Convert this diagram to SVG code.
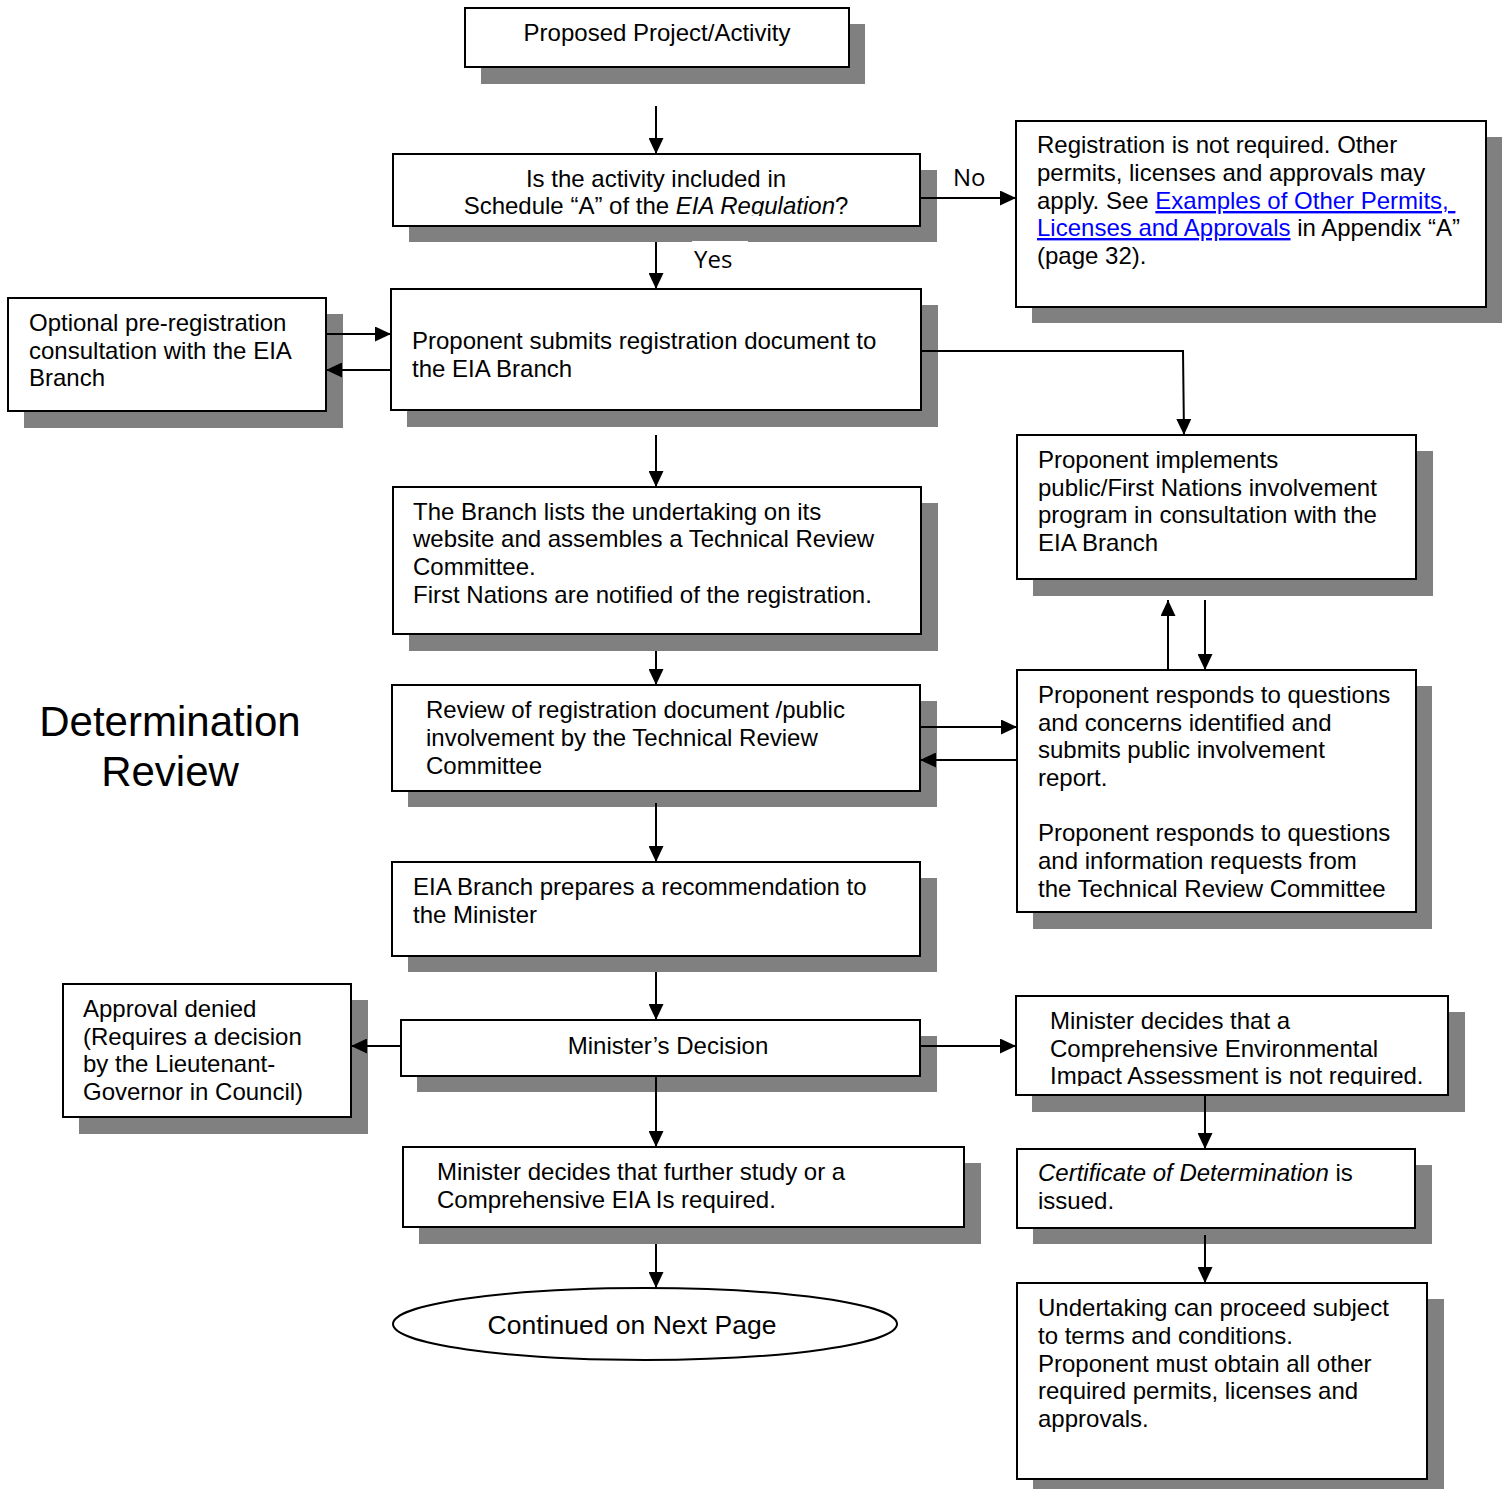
<svg xmlns="http://www.w3.org/2000/svg" width="1506" height="1489" viewBox="0 0 1506 1489">
<style>
.sh{fill:#808080}
.bx{fill:#fff;stroke:#000;stroke-width:2}
.t{font-family:"Liberation Sans",Arial,sans-serif;font-size:24px;fill:#000}
.c{text-anchor:middle}
.lbl{font-family:"Open Sans","DejaVu Sans",sans-serif;font-size:24px;fill:#000}
.ln{fill:none;stroke:#000;stroke-width:2}
.lk{fill:#0000ff;text-decoration:underline}
</style>
<defs>
<marker id="ah" viewBox="0 0 16 15" refX="16" refY="7.5" markerWidth="16" markerHeight="15" markerUnits="userSpaceOnUse" orient="auto">
<path d="M0,0 L16,7.5 L0,15 z" fill="#000"/>
</marker>
<clipPath id="c2"><rect x="393" y="154" width="527" height="62"/></clipPath>
<clipPath id="c13"><rect x="1016" y="996" width="432" height="90"/></clipPath>
</defs>
<rect x="0" y="0" width="1506" height="1489" fill="#fff"/>

<g id="n1">
<rect class="sh" x="481" y="24" width="384" height="60"/>
<rect class="bx" x="465" y="8" width="384" height="59"/>
<text class="t c" x="657" y="41">Proposed Project/Activity</text>
</g>

<g id="n2">
<rect class="sh" x="409" y="170" width="528" height="72"/>
<rect class="bx" x="393" y="154" width="527" height="72"/>
<text class="t c" x="656" y="187" clip-path="url(#c2)">Is the activity included in</text>
<text class="t c" x="656" y="214" clip-path="url(#c2)">Schedule “A” of the <tspan font-style="italic">EIA Regulation</tspan>?</text>
</g>

<g id="n3">
<rect class="sh" x="1032" y="137" width="470" height="186"/>
<rect class="bx" x="1016" y="121" width="470" height="186"/>
<text class="t" x="1037" y="153">Registration is not required. Other</text>
<text class="t" x="1037" y="181">permits, licenses and approvals may</text>
<text class="t" x="1037" y="209">apply. See <tspan class="lk">Examples of Other Permits,&#160;</tspan></text>
<text class="t" x="1037" y="236"><tspan class="lk">Licenses and Approvals</tspan> in Appendix “A”</text>
<text class="t" x="1037" y="264">(page 32).</text>
</g>

<g id="n4">
<rect class="sh" x="24" y="314" width="319" height="114"/>
<rect class="bx" x="8" y="298" width="318" height="113"/>
<text class="t" x="29" y="331">Optional pre-registration</text>
<text class="t" x="29" y="359">consultation with the EIA</text>
<text class="t" x="29" y="386">Branch</text>
</g>

<g id="n5">
<rect class="sh" x="407" y="305" width="531" height="122"/>
<rect class="bx" x="391" y="289" width="530" height="121"/>
<text class="t" x="412" y="349">Proponent submits registration document to</text>
<text class="t" x="412" y="377">the EIA Branch</text>
</g>

<g id="n6">
<rect class="sh" x="1033" y="451" width="400" height="145"/>
<rect class="bx" x="1017" y="435" width="399" height="144"/>
<text class="t" x="1038" y="468">Proponent implements</text>
<text class="t" x="1038" y="496">public/First Nations involvement</text>
<text class="t" x="1038" y="523">program in consultation with the</text>
<text class="t" x="1038" y="551">EIA Branch</text>
</g>

<g id="n7">
<rect class="sh" x="409" y="503" width="529" height="148"/>
<rect class="bx" x="393" y="487" width="528" height="147"/>
<text class="t" x="413" y="520">The Branch lists the undertaking on its</text>
<text class="t" x="413" y="547">website and assembles a Technical Review</text>
<text class="t" x="413" y="575">Committee.</text>
<text class="t" x="413" y="603">First Nations are notified of the registration.</text>
</g>

<g id="n8">
<rect class="sh" x="408" y="701" width="529" height="106"/>
<rect class="bx" x="392" y="685" width="528" height="106"/>
<text class="t" x="426" y="718">Review of registration document /public</text>
<text class="t" x="426" y="746">involvement by the Technical Review</text>
<text class="t" x="426" y="774">Committee</text>
</g>

<g id="n9">
<rect class="sh" x="1033" y="686" width="399" height="243"/>
<rect class="bx" x="1017" y="670" width="399" height="242"/>
<text class="t" x="1038" y="703">Proponent responds to questions</text>
<text class="t" x="1038" y="731">and concerns identified and</text>
<text class="t" x="1038" y="758">submits public involvement</text>
<text class="t" x="1038" y="786">report.</text>
<text class="t" x="1038" y="841">Proponent responds to questions</text>
<text class="t" x="1038" y="869">and information requests from</text>
<text class="t" x="1038" y="897">the Technical Review Committee</text>
</g>

<g id="n10">
<rect class="sh" x="408" y="878" width="529" height="94"/>
<rect class="bx" x="392" y="862" width="528" height="94"/>
<text class="t" x="413" y="895">EIA Branch prepares a recommendation to</text>
<text class="t" x="413" y="923">the Minister</text>
</g>

<g id="n11">
<rect class="sh" x="417" y="1036" width="520" height="56"/>
<rect class="bx" x="401" y="1020" width="519" height="56"/>
<text class="t c" x="668" y="1054">Minister’s Decision</text>
</g>

<g id="n12">
<rect class="sh" x="79" y="1000" width="289" height="134"/>
<rect class="bx" x="63" y="984" width="288" height="133"/>
<text class="t" x="83" y="1017">Approval denied</text>
<text class="t" x="83" y="1045">(Requires a decision</text>
<text class="t" x="83" y="1072">by the Lieutenant-</text>
<text class="t" x="83" y="1100">Governor in Council)</text>
</g>

<g id="n13">
<rect class="sh" x="1032" y="1012" width="433" height="100"/>
<rect class="bx" x="1016" y="996" width="432" height="99"/>
<text class="t" x="1050" y="1029" clip-path="url(#c13)">Minister decides that a</text>
<text class="t" x="1050" y="1057" clip-path="url(#c13)">Comprehensive Environmental</text>
<text class="t" x="1050" y="1084" clip-path="url(#c13)">Impact Assessment is not required.</text>
</g>

<g id="n14">
<rect class="sh" x="419" y="1163" width="562" height="81"/>
<rect class="bx" x="403" y="1147" width="561" height="80"/>
<text class="t" x="437" y="1180">Minister decides that further study or a</text>
<text class="t" x="437" y="1208">Comprehensive EIA Is required.</text>
</g>

<g id="n15">
<rect class="sh" x="1033" y="1165" width="399" height="79"/>
<rect class="bx" x="1017" y="1149" width="398" height="79"/>
<text class="t" x="1038" y="1181"><tspan font-style="italic">Certificate of Determination</tspan> is</text>
<text class="t" x="1038" y="1209">issued.</text>
</g>

<g id="n16">
<rect class="sh" x="1033" y="1299" width="411" height="200"/>
<rect class="bx" x="1017" y="1283" width="410" height="196"/>
<text class="t" x="1038" y="1316">Undertaking can proceed subject</text>
<text class="t" x="1038" y="1344">to terms and conditions.</text>
<text class="t" x="1038" y="1372">Proponent must obtain all other</text>
<text class="t" x="1038" y="1399">required permits, licenses and</text>
<text class="t" x="1038" y="1427">approvals.</text>
</g>

<g id="n17">
<ellipse cx="645" cy="1324" rx="252" ry="36" fill="#fff" stroke="#000" stroke-width="2"/>
<text class="t c" x="632" y="1334" style="font-size:26.5px">Continued on Next Page</text>
</g>

<g id="title">
<text class="t c" x="170" y="736" style="font-size:42px">Determination</text>
<text class="t c" x="170" y="786" style="font-size:42px">Review</text>
</g>

<g id="connectors">
<line class="ln" x1="656" y1="106" x2="656" y2="154" marker-end="url(#ah)"/>
<line class="ln" x1="920" y1="198" x2="1016" y2="198" marker-end="url(#ah)"/>
<rect x="692" y="241" width="56" height="34" fill="#fff"/>
<line class="ln" x1="656" y1="242" x2="656" y2="289" marker-end="url(#ah)"/>
<line class="ln" x1="326" y1="334" x2="391" y2="334" marker-end="url(#ah)"/>
<line class="ln" x1="391" y1="370" x2="326" y2="370" marker-end="url(#ah)"/>
<polyline class="ln" points="921,351 1183,351 1184,435" marker-end="url(#ah)"/>
<line class="ln" x1="656" y1="435" x2="656" y2="487" marker-end="url(#ah)"/>
<line class="ln" x1="656" y1="651" x2="656" y2="685" marker-end="url(#ah)"/>
<line class="ln" x1="920" y1="727" x2="1017" y2="727" marker-end="url(#ah)"/>
<line class="ln" x1="1017" y1="760" x2="920" y2="760" marker-end="url(#ah)"/>
<line class="ln" x1="1168" y1="670" x2="1168" y2="600" marker-end="url(#ah)"/>
<line class="ln" x1="1205" y1="600" x2="1205" y2="670" marker-end="url(#ah)"/>
<line class="ln" x1="656" y1="803" x2="656" y2="862" marker-end="url(#ah)"/>
<line class="ln" x1="656" y1="972" x2="656" y2="1020" marker-end="url(#ah)"/>
<line class="ln" x1="401" y1="1046" x2="351" y2="1046" marker-end="url(#ah)"/>
<line class="ln" x1="920" y1="1046" x2="1016" y2="1046" marker-end="url(#ah)"/>
<line class="ln" x1="656" y1="1076" x2="656" y2="1147" marker-end="url(#ah)"/>
<line class="ln" x1="1205" y1="1095" x2="1205" y2="1149" marker-end="url(#ah)"/>
<line class="ln" x1="1205" y1="1235" x2="1205" y2="1283" marker-end="url(#ah)"/>
<line class="ln" x1="656" y1="1244" x2="656" y2="1288" marker-end="url(#ah)"/>
<text class="lbl" x="694" y="268">Yes</text>
<text class="lbl" x="953" y="186">No</text>
</g>
</svg>
